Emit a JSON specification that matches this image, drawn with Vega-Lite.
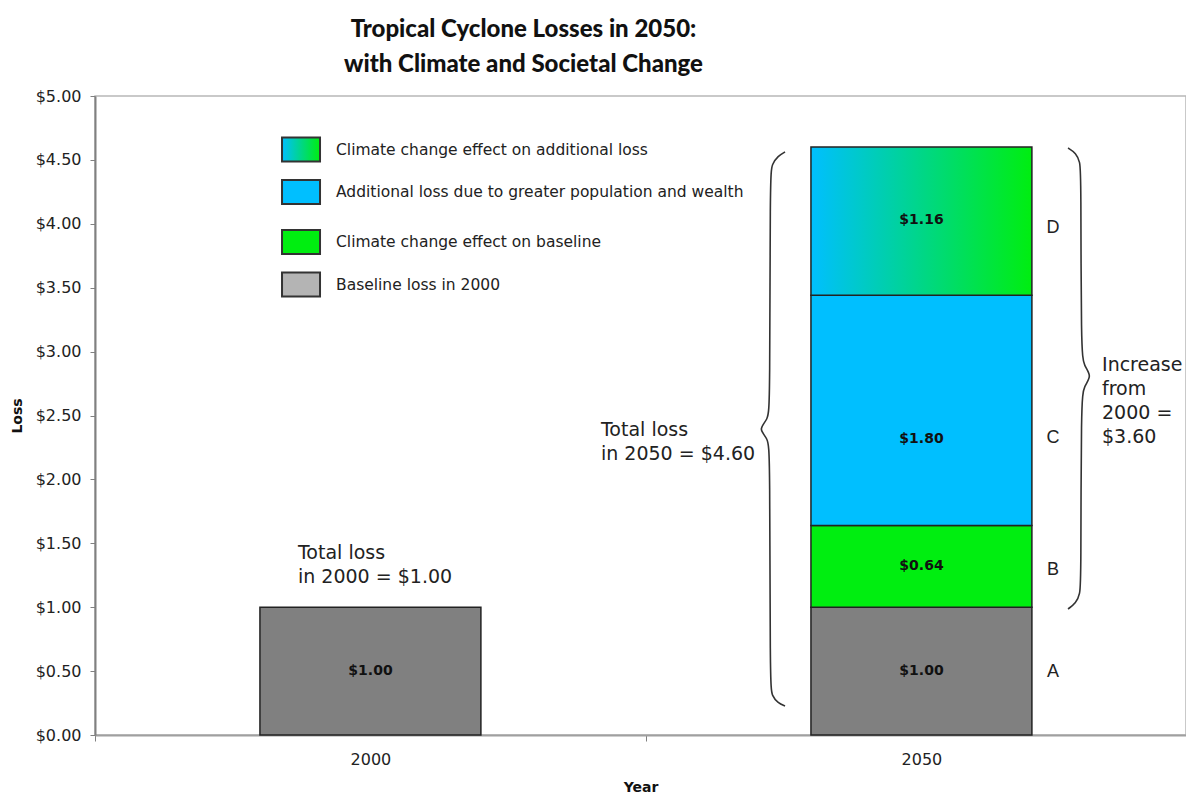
{
  "$schema": "https://vega.github.io/schema/vega-lite/v6.json",
  "width": 1091,
  "height": 639,
  "autosize": {"type": "none"},
  "padding": {"left": 95, "top": 96, "right": 0, "bottom": 62},
  "background": "white",
  "config": {"view": {"stroke": "#b8b8b8", "strokeWidth": 1.5}},
  "title": {
    "text": ["Tropical Cyclone Losses in 2050:", "with Climate and Societal Change"],
    "font": "Lato",
    "fontSize": 24,
    "fontWeight": 900,
    "color": "#111111",
    "anchor": "middle",
    "dx": -117,
    "offset": 11,
    "lineHeight": 35
  },
  "datasets": {
    "bars": [
      {"year": "2000", "component": "Baseline loss in 2000", "letter": "A", "value": 1.00},
      {"year": "2050", "component": "Baseline loss in 2000", "letter": "A", "value": 1.00},
      {"year": "2050", "component": "Climate change effect on baseline", "letter": "B", "value": 0.64},
      {"year": "2050", "component": "Additional loss due to greater population and wealth", "letter": "C", "value": 1.80},
      {"year": "2050", "component": "Climate change effect on additional loss", "letter": "D", "value": 1.16}
    ],
    "legend": [
      {"letter": "D", "label": "Climate change effect on additional loss", "xq": 0.3739, "tx": 0.4374, "pos": 4.581},
      {"letter": "C", "label": "Additional loss due to greater population and wealth", "xq": 0.3739, "tx": 0.4374, "pos": 4.249},
      {"letter": "B", "label": "Climate change effect on baseline", "xq": 0.3739, "tx": 0.4374, "pos": 3.858},
      {"letter": "A", "label": "Baseline loss in 2000", "xq": 0.3739, "tx": 0.4374, "pos": 3.525}
    ],
    "barlabels": [
      {"xq": 0.5, "pos": 0.5, "text": "$1.00"},
      {"xq": 1.5, "pos": 0.5, "text": "$1.00"},
      {"xq": 1.5, "pos": 1.32, "text": "$0.64"},
      {"xq": 1.5, "pos": 2.32, "text": "$1.80"},
      {"xq": 1.5, "pos": 4.03, "text": "$1.16"}
    ],
    "letters": [
      {"xq": 1.7387, "pos": 0.493, "text": "A"},
      {"xq": 1.7387, "pos": 1.291, "text": "B"},
      {"xq": 1.7387, "pos": 2.324, "text": "C"},
      {"xq": 1.7387, "pos": 3.967, "text": "D"}
    ],
    "notes": [
      {"xq": 0.3684, "pos": 1.424, "text": "Total loss\nin 2000 = $1.00"},
      {"xq": 0.9183, "pos": 2.387, "text": "Total loss\nin 2050 = $4.60"},
      {"xq": 1.8276, "pos": 2.895, "text": "Increase\nfrom\n2000 =\n$3.60"}
    ],
    "braces": [
      {"brace": "L", "i": 1, "xq": 1.2523, "pos": 4.562},
      {"brace": "L", "i": 2, "xq": 1.2396, "pos": 4.531},
      {"brace": "L", "i": 3, "xq": 1.2287, "pos": 4.468},
      {"brace": "L", "i": 4, "xq": 1.2250, "pos": 4.382},
      {"brace": "L", "i": 5, "xq": 1.2250, "pos": 2.582},
      {"brace": "L", "i": 6, "xq": 1.2214, "pos": 2.465},
      {"brace": "L", "i": 7, "xq": 1.2033, "pos": 2.394},
      {"brace": "L", "i": 8, "xq": 1.2214, "pos": 2.324},
      {"brace": "L", "i": 9, "xq": 1.2250, "pos": 2.207},
      {"brace": "L", "i": 10, "xq": 1.2250, "pos": 0.391},
      {"brace": "L", "i": 11, "xq": 1.2287, "pos": 0.305},
      {"brace": "L", "i": 12, "xq": 1.2396, "pos": 0.250},
      {"brace": "L", "i": 13, "xq": 1.2523, "pos": 0.227},
      {"brace": "R", "i": 1, "xq": 1.7659, "pos": 4.593},
      {"brace": "R", "i": 2, "xq": 1.7804, "pos": 4.554},
      {"brace": "R", "i": 3, "xq": 1.7877, "pos": 4.484},
      {"brace": "R", "i": 4, "xq": 1.7895, "pos": 4.382},
      {"brace": "R", "i": 5, "xq": 1.7895, "pos": 2.997},
      {"brace": "R", "i": 6, "xq": 1.7949, "pos": 2.887},
      {"brace": "R", "i": 7, "xq": 1.8094, "pos": 2.809},
      {"brace": "R", "i": 8, "xq": 1.7949, "pos": 2.731},
      {"brace": "R", "i": 9, "xq": 1.7895, "pos": 2.621},
      {"brace": "R", "i": 10, "xq": 1.7895, "pos": 1.213},
      {"brace": "R", "i": 11, "xq": 1.7877, "pos": 1.103},
      {"brace": "R", "i": 12, "xq": 1.7804, "pos": 1.033},
      {"brace": "R", "i": 13, "xq": 1.7659, "pos": 0.986}
    ]
  },
  "layer": [
    {
      "data": {"name": "bars"},
      "mark": {"type": "bar", "stroke": "#222222", "strokeWidth": 1.5},
      "encoding": {
        "x": {
          "field": "year",
          "type": "nominal",
          "scale": {"paddingInner": 0.599, "paddingOuter": 0.2895, "align": 0.517},
          "axis": {
            "title": "Year",
            "titleFont": "DejaVu Sans",
            "titleFontSize": 14,
            "titleFontWeight": "bold",
            "titleColor": "#111111",
            "titlePadding": 13,
            "labelAngle": 0,
            "labelFont": "DejaVu Sans",
            "labelFontSize": 16,
            "labelColor": "#222222",
            "labelPadding": 10,
            "tickOffset": -275.5,
            "labelOffset": 275.5,
            "tickSize": 6,
            "tickColor": "#808080",
            "domainColor": "#a0a0a0",
            "domainWidth": 2,
            "grid": false
          }
        },
        "y": {
          "field": "value",
          "type": "quantitative",
          "stack": "zero",
          "scale": {"domain": [0, 5], "nice": false, "zero": true},
          "axis": {
            "title": "Loss",
            "values": [0, 0.5, 1, 1.5, 2, 2.5, 3, 3.5, 4, 4.5, 5],
            "format": "$.2f",
            "titleFont": "DejaVu Sans",
            "titleFontSize": 14,
            "titleFontWeight": "bold",
            "titleColor": "#111111",
            "titlePadding": 11,
            "labelFont": "DejaVu Sans",
            "labelFontSize": 16,
            "labelColor": "#222222",
            "labelPadding": 9,
            "tickSize": 5,
            "tickColor": "#808080",
            "domainColor": "#808080",
            "domainWidth": 2,
            "grid": false
          }
        },
        "order": {"field": "letter", "type": "ordinal"},
        "fill": {
          "condition": {
            "test": "datum.letter === 'D'",
            "value": {"gradient": "linear", "x1": 0, "y1": 0, "x2": 1, "y2": 0, "stops": [{"offset": 0, "color": "#00bfff"}, {"offset": 1, "color": "#00ee10"}]}
          },
          "field": "component",
          "type": "nominal",
          "scale": {
            "domain": ["Climate change effect on additional loss", "Additional loss due to greater population and wealth", "Climate change effect on baseline", "Baseline loss in 2000"],
            "range": ["#00d8a0", "#00bfff", "#00ee10", "#808080"]
          },
          "legend": null
        }
      }
    },
    {
      "data": {"name": "legend"},
      "mark": {"type": "point", "shape": "M-1,-0.63H1V0.63H-1Z", "size": 1444, "filled": true, "opacity": 1, "stroke": "#333333", "strokeWidth": 2},
      "encoding": {
        "x": {"field": "xq", "type": "quantitative", "scale": {"domain": [0, 1.98], "nice": false, "zero": false}, "axis": null},
        "y": {"field": "pos", "type": "quantitative", "scale": {"domain": [0, 5], "nice": false}, "title": "Loss"},
        "fill": {
          "condition": [
            {"test": "datum.letter === 'D'", "value": {"gradient": "linear", "x1": 0, "y1": 0, "x2": 1, "y2": 0, "stops": [{"offset": 0, "color": "#00bfff"}, {"offset": 1, "color": "#00ee10"}]}},
            {"test": "datum.letter === 'C'", "value": "#00bfff"},
            {"test": "datum.letter === 'B'", "value": "#00ee10"}
          ],
          "value": "#b4b4b4"
        }
      }
    },
    {
      "data": {"name": "legend"},
      "mark": {"type": "text", "font": "DejaVu Sans", "fontSize": 15.5, "color": "#222222", "baseline": "middle", "align": "left"},
      "encoding": {
        "x": {"field": "tx", "type": "quantitative", "scale": {"domain": [0, 1.98], "nice": false, "zero": false}, "axis": null},
        "y": {"field": "pos", "type": "quantitative", "scale": {"domain": [0, 5], "nice": false}, "title": "Loss"},
        "text": {"field": "label", "type": "nominal"}
      }
    },
    {
      "data": {"name": "barlabels"},
      "mark": {"type": "text", "font": "DejaVu Sans", "fontWeight": "bold", "fontSize": 14, "color": "#111111", "baseline": "middle", "align": "center"},
      "encoding": {
        "x": {"field": "xq", "type": "quantitative", "scale": {"domain": [0, 1.98], "nice": false, "zero": false}, "axis": null},
        "y": {"field": "pos", "type": "quantitative", "scale": {"domain": [0, 5], "nice": false}, "title": "Loss"},
        "text": {"field": "text", "type": "nominal"}
      }
    },
    {
      "data": {"name": "letters"},
      "mark": {"type": "text", "font": "Liberation Sans", "fontSize": 18, "color": "#222222", "baseline": "middle", "align": "center"},
      "encoding": {
        "x": {"field": "xq", "type": "quantitative", "scale": {"domain": [0, 1.98], "nice": false, "zero": false}, "axis": null},
        "y": {"field": "pos", "type": "quantitative", "scale": {"domain": [0, 5], "nice": false}, "title": "Loss"},
        "text": {"field": "text", "type": "nominal"}
      }
    },
    {
      "data": {"name": "notes"},
      "mark": {"type": "text", "font": "DejaVu Sans", "fontSize": 19, "color": "#222222", "baseline": "middle", "align": "left", "lineBreak": "\n", "lineHeight": 24},
      "encoding": {
        "x": {"field": "xq", "type": "quantitative", "scale": {"domain": [0, 1.98], "nice": false, "zero": false}, "axis": null},
        "y": {"field": "pos", "type": "quantitative", "scale": {"domain": [0, 5], "nice": false}, "title": "Loss"},
        "text": {"field": "text", "type": "nominal"}
      }
    },
    {
      "data": {"name": "braces"},
      "mark": {"type": "line", "interpolate": "basis", "color": "#333333", "strokeWidth": 1.6},
      "encoding": {
        "x": {"field": "xq", "type": "quantitative", "scale": {"domain": [0, 1.98], "nice": false, "zero": false}, "axis": null},
        "y": {"field": "pos", "type": "quantitative", "scale": {"domain": [0, 5], "nice": false}, "title": "Loss"},
        "detail": {"field": "brace", "type": "nominal"},
        "order": {"field": "i", "type": "quantitative"}
      }
    }
  ],
  "resolve": {"scale": {"x": "independent"}}
}
